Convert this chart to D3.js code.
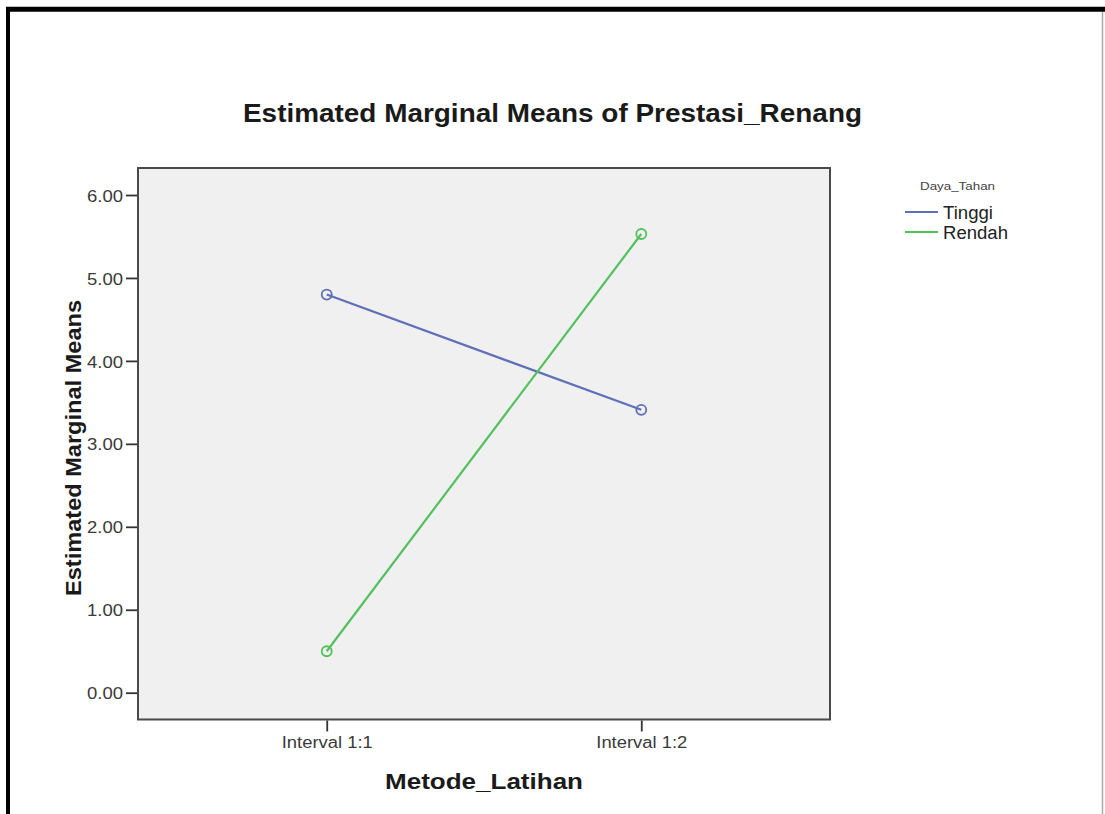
<!DOCTYPE html>
<html>
<head>
<meta charset="utf-8">
<script src="https://cdn.jsdelivr.net/npm/d3@7"></script>
<style>
  html, body { margin: 0; padding: 0; background: #fff; }
  svg { display: block; font-family: "Liberation Sans", Arial, sans-serif; }
</style>
</head>
<body>
<svg id="chart" width="1105" height="814"></svg>
<script>
const categories = ["Interval 1:1", "Interval 1:2"];
const seriesNames = ["Tinggi", "Rendah"];
const tinggiValues = [4.80, 3.41];
const rendahValues = [0.50, 5.53];
const yTicks = [0, 1, 2, 3, 4, 5, 6];
const seriesColors = ["#5f6fb8", "#52c05c"];

const svg = d3.select("#chart");

// outer frame
svg.append("rect").attr("x", 0).attr("y", 0).attr("width", 1105).attr("height", 814).attr("fill", "#fff");
svg.append("line").attr("x1", 6).attr("x2", 1105).attr("y1", 9.2).attr("y2", 9.2).attr("stroke", "#000").attr("stroke-width", 5);
svg.append("line").attr("x1", 8).attr("x2", 8).attr("y1", 7).attr("y2", 814).attr("stroke", "#000").attr("stroke-width", 4);
svg.append("line").attr("x1", 1102.5).attr("x2", 1102.5).attr("y1", 12).attr("y2", 814).attr("stroke", "#aaa").attr("stroke-width", 1.5);

const plot = { left: 138, top: 168, right: 830, bottom: 719.5 };

const x = d3.scalePoint().domain(categories).range([plot.left, plot.right]).padding(0.6);
const y = d3.scaleLinear().domain([0, 6]).range([692.7, 195]);

// plot background
svg.append("rect")
  .attr("x", plot.left).attr("y", plot.top)
  .attr("width", plot.right - plot.left).attr("height", plot.bottom - plot.top)
  .attr("fill", "#f0f0f0").attr("stroke", "#4a4a4a").attr("stroke-width", 2);

// y axis
const yAxis = d3.axisLeft(y).tickValues(yTicks).tickFormat(d3.format(".2f")).tickSize(11).tickPadding(3);
const gy = svg.append("g").attr("transform", `translate(${plot.left - 1},0)`).call(yAxis);
gy.select(".domain").remove();
gy.selectAll(".tick line").attr("stroke", "#333").attr("stroke-width", 1.8);
gy.selectAll(".tick text").attr("fill", "#3a3a3a").style("font-size", "17px").attr("dy", "0.36em")
  .attr("textLength", 36).attr("lengthAdjust", "spacingAndGlyphs");

// x axis
const xAxis = d3.axisBottom(x).tickSize(11).tickPadding(5);
const gx = svg.append("g").attr("transform", `translate(0,${plot.bottom + 1})`).call(xAxis);
gx.select(".domain").remove();
gx.selectAll(".tick line").attr("stroke", "#333").attr("stroke-width", 1.8);
gx.selectAll(".tick text").attr("fill", "#3a3a3a").style("font-size", "16px")
  .attr("textLength", 91).attr("lengthAdjust", "spacingAndGlyphs");

// series
const series = [
  { name: seriesNames[0], values: tinggiValues, color: seriesColors[0] },
  { name: seriesNames[1], values: rendahValues, color: seriesColors[1] }
];
const line = d3.line().x((d, i) => x(categories[i])).y(d => y(d));
series.forEach(s => {
  svg.append("path").datum(s.values).attr("d", line)
    .attr("fill", "none").attr("stroke", s.color).attr("stroke-width", 2.2);
  svg.selectAll(null).data(s.values).enter().append("circle")
    .attr("cx", (d, i) => x(categories[i])).attr("cy", d => y(d)).attr("r", 5)
    .attr("fill", "none").attr("stroke", s.color).attr("stroke-width", 1.8);
});

// titles
svg.append("text").attr("x", 552.5).attr("y", 122).attr("text-anchor", "middle")
  .style("font-size", "25px").style("font-weight", "bold").attr("fill", "#1a1a1a")
  .attr("textLength", 619).attr("lengthAdjust", "spacingAndGlyphs")
  .text("Estimated Marginal Means of Prestasi_Renang");
svg.append("text").attr("transform", `translate(81,448) rotate(-90)`)
  .attr("text-anchor", "middle")
  .style("font-size", "22px").style("font-weight", "bold").attr("fill", "#1a1a1a")
  .attr("textLength", 296).attr("lengthAdjust", "spacingAndGlyphs")
  .text("Estimated Marginal Means");
svg.append("text").attr("x", 484).attr("y", 789).attr("text-anchor", "middle")
  .style("font-size", "22px").style("font-weight", "bold").attr("fill", "#1a1a1a")
  .attr("textLength", 198).attr("lengthAdjust", "spacingAndGlyphs")
  .text("Metode_Latihan");

// legend
svg.append("text").attr("x", 920).attr("y", 190).style("font-size", "11px").attr("fill", "#444")
  .attr("textLength", 75).attr("lengthAdjust", "spacingAndGlyphs")
  .text("Daya_Tahan");
const legendWidths = [50, 65];
series.forEach((s, i) => {
  const ly = 212 + i * 20;
  svg.append("line").attr("x1", 905).attr("x2", 938).attr("y1", ly).attr("y2", ly)
    .attr("stroke", s.color).attr("stroke-width", 2.2);
  svg.append("text").attr("x", 943).attr("y", ly + 7).style("font-size", "18px").attr("fill", "#222")
    .attr("textLength", legendWidths[i]).attr("lengthAdjust", "spacingAndGlyphs")
    .text(s.name);
});
</script>
</body>
</html>
